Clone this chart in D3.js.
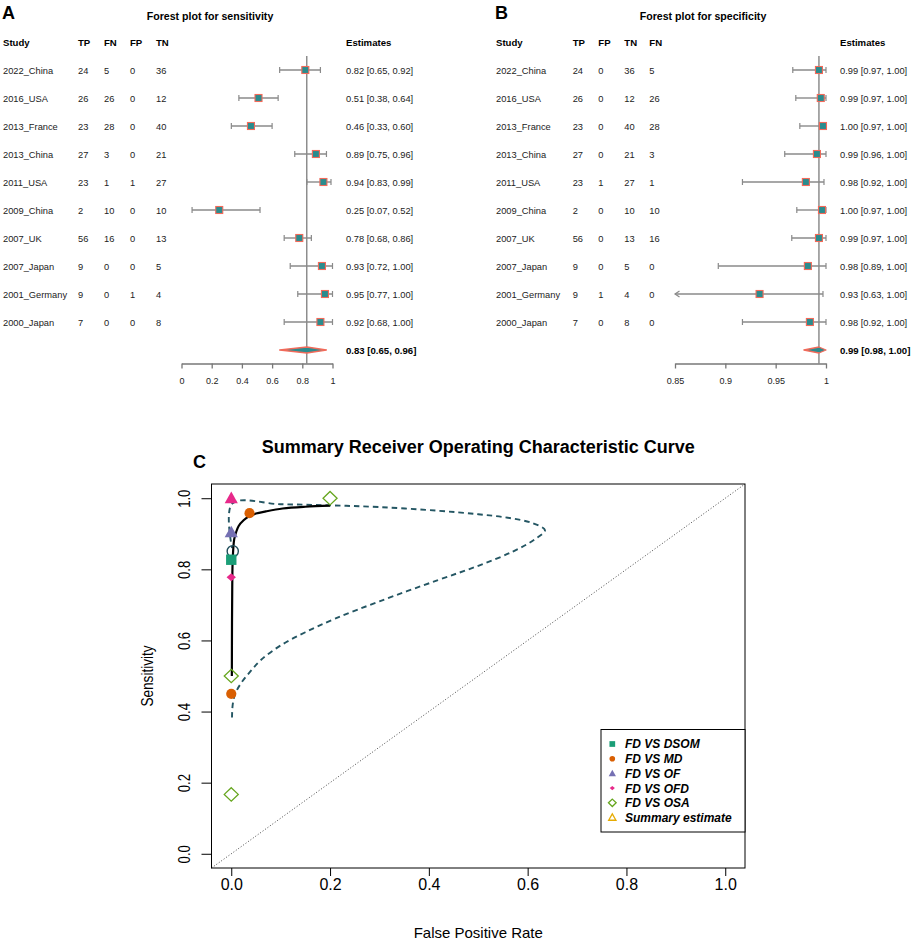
<!DOCTYPE html>
<html lang="en">
<head>
    <meta charset="UTF-8">
    <title>Forest plots and SROC curve</title>
    <style>
        body { margin: 0; background: #fff; }
        text { font-family: "Liberation Sans", Arial, Helvetica, sans-serif; }
    </style>
</head>
<body>
    <script src="https://cdn.jsdelivr.net/npm/d3@7"></script>
    <script type="text/javascript">
        /* #### data #### */
        var studies = ["2022_China", "2016_USA", "2013_France", "2013_China", "2011_USA",
                       "2009_China", "2007_UK", "2007_Japan", "2001_Germany", "2000_Japan"];
        var tp = [24, 26, 23, 27, 23, 2, 56, 9, 9, 7];
        var fn = [5, 26, 28, 3, 1, 10, 16, 0, 0, 0];
        var fp = [0, 0, 0, 0, 1, 0, 0, 0, 1, 0];
        var tn = [36, 12, 40, 21, 27, 10, 13, 5, 4, 8];

        var sensEst = [0.82, 0.51, 0.46, 0.89, 0.94, 0.25, 0.78, 0.93, 0.95, 0.92];
        var sensLo  = [0.65, 0.38, 0.33, 0.75, 0.83, 0.07, 0.68, 0.72, 0.77, 0.68];
        var sensHi  = [0.92, 0.64, 0.60, 0.96, 0.99, 0.52, 0.86, 1.00, 1.00, 1.00];
        var sensSummary = [0.83, 0.65, 0.96];
        var sensTicks = [0, 0.2, 0.4, 0.6, 0.8, 1];

        var specEst = [0.993, 0.9948, 0.997, 0.991, 0.980, 0.996, 0.993, 0.982, 0.934, 0.984];
        var specLo  = [0.967, 0.970, 0.974, 0.959, 0.917, 0.971, 0.966, 0.893, 0.63, 0.917];
        var specHi  = [1.0, 1.0, 1.0, 1.0, 0.998, 1.0, 1.0, 1.0, 0.997, 1.0];
        var specSummary = [0.993, 0.978, 1.0];
        var specTicks = [0.85, 0.9, 0.95, 1];

        // SROC panel
        var groups = ["FD VS DSOM", "FD VS MD", "FD VS OF", "FD VS OFD", "FD VS OSA", "Summary estimate"];
        var groupPch = [15, 16, 17, 18, 5, 2];
        var rocFpr   = [0, 0.037, 0, 0, 0, 0, 0.2, 0, 0];
        var rocSens  = [0.827, 0.958, 0.45, 0.904, 1.0, 0.778, 1.0, 0.5, 0.167];
        var rocGroup = [0, 1, 1, 2, 3, 3, 4, 4, 4];
        var rocPch   = [15, 16, 16, 17, 17, 18, 5, 5, 5];
        var summaryPoint = [0.003, 0.851];

        var srocFpr  = [0.0012, 0.0015, 0.002, 0.003, 0.006, 0.01, 0.015, 0.025, 0.036, 0.05, 0.07, 0.104, 0.15, 0.2];
        var srocSens = [0.50, 0.65, 0.75, 0.83, 0.885, 0.905, 0.922, 0.938, 0.949, 0.957, 0.963, 0.971, 0.976, 0.979];

        var ellFpr  = [0.0015, 0.003, 0.008, 0.02, 0.04, 0.06, 0.1, 0.15, 0.21, 0.3, 0.417, 0.5, 0.57,
                       0.615, 0.635, 0.61, 0.56, 0.5, 0.417, 0.3, 0.2, 0.1, 0.002, 0.0015];
        var ellSens = [0.383, 0.42, 0.45, 0.48, 0.515, 0.545, 0.586, 0.623, 0.661, 0.71, 0.769, 0.81, 0.85,
                       0.885, 0.91, 0.93, 0.945, 0.955, 0.965, 0.975, 0.980, 0.983, 0.985, 0.86];
        var rocTicks = [0, 0.2, 0.4, 0.6, 0.8, 1.0];

        var dark2 = ["#1B9E77", "#D95F02", "#7570B3", "#E7298A", "#66A61E", "#E6AB02"];
        var teal = "#2a8c8e", salmon = "#f26a5a", grayBar = "#8a8a8a";
        var f2 = d3.format(".2f");

        var svg = d3.select("body").append("svg").attr("width", 913).attr("height", 941);

        /* #### forest plots #### */
        function forest(o) {
            var g = svg.append("g");
            var x = d3.scaleLinear().domain(o.domain).range(o.range);
            var rowY = function(i){ return 70 + i * 28; };

            g.append("text").text(o.letter).attr("x", o.letterX).attr("y", 18.5)
                .attr("font-size", "18px").attr("font-weight", "bold");
            g.append("text").text(o.title).attr("x", o.titleX).attr("y", 20)
                .attr("text-anchor", "middle").attr("font-size", "10.6px").attr("font-weight", "bold");

            o.heads.forEach(function(h, k){
                g.append("text").text(h).attr("x", o.colX[k]).attr("y", 45.5)
                    .attr("font-size", "9.6px").attr("font-weight", "bold");
            });
            g.append("text").text("Estimates").attr("x", o.estX).attr("y", 45.5)
                .attr("font-size", "9.6px").attr("font-weight", "bold");

            o.cols.forEach(function(col, k){
                g.selectAll(null).data(col).enter().append("text")
                    .text(function(d){ return d; })
                    .attr("x", o.colX[k])
                    .attr("y", function(d, i){ return rowY(i) + 3.5; })
                    .attr("font-size", "9.3px").attr("fill", "#222");
            });

            // reference line
            g.append("line")
                .attr("x1", x(o.summary[0])).attr("x2", x(o.summary[0]))
                .attr("y1", 56).attr("y2", 363.5)
                .attr("stroke", "#555").attr("stroke-width", 1);

            // CI bars
            var rows = o.est.map(function(d, i){ return {e: d, lo: o.lo[i], hi: o.hi[i], i: i}; });
            var bars = g.selectAll(".ci").data(rows).enter().append("g").attr("class", "ci");
            bars.append("line")
                .attr("x1", function(d){ return x(Math.max(d.lo, o.domain[0])); })
                .attr("x2", function(d){ return x(d.hi); })
                .attr("y1", function(d){ return rowY(d.i); })
                .attr("y2", function(d){ return rowY(d.i); })
                .attr("stroke", grayBar).attr("stroke-width", 1.4);
            bars.append("path")
                .attr("d", function(d){
                    var y = rowY(d.i), xl = x(Math.max(d.lo, o.domain[0])), xh = x(d.hi);
                    var left = d.lo < o.domain[0]
                        ? "M" + (xl + 4.5) + "," + (y - 3) + "L" + xl + "," + y + "L" + (xl + 4.5) + "," + (y + 3)
                        : "M" + xl + "," + (y - 3) + "V" + (y + 3);
                    return left + "M" + xh + "," + (y - 3) + "V" + (y + 3);
                })
                .attr("fill", "none").attr("stroke", grayBar).attr("stroke-width", 1.2);
            bars.append("rect")
                .attr("x", function(d){ return x(d.e) - 3.5; })
                .attr("y", function(d){ return rowY(d.i) - 3.5; })
                .attr("width", 7).attr("height", 7)
                .attr("fill", teal).attr("stroke", salmon).attr("stroke-width", 1.1);

            g.selectAll(".est").data(rows).enter().append("text")
                .text(function(d){ return f2(d.e) + " [" + f2(d.lo) + ", " + f2(d.hi) + "]"; })
                .attr("x", o.estX)
                .attr("y", function(d){ return rowY(d.i) + 3.5; })
                .attr("font-size", "9.3px").attr("fill", "#222");

            // summary diamond
            var s = o.summary, ys = 350;
            g.append("path")
                .attr("d", "M" + x(s[1]) + "," + ys + "L" + x(s[0]) + "," + (ys - 3) + "L" + x(s[2]) + "," + ys +
                           "L" + x(s[0]) + "," + (ys + 3) + "Z")
                .attr("fill", teal).attr("stroke", salmon).attr("stroke-width", 1.3).attr("stroke-linejoin", "round");
            g.append("text").text(f2(s[0]) + " [" + f2(s[1]) + ", " + f2(s[2]) + "]")
                .attr("x", o.estX).attr("y", ys + 3.5)
                .attr("font-size", "9.6px").attr("font-weight", "bold");

            // axis
            var ax = g.append("g").attr("transform", "translate(0,363.5)")
                .call(d3.axisBottom(x).tickValues(o.ticks).tickSize(5).tickSizeOuter(0).tickPadding(9)
                    .tickFormat(d3.format("~g")));
            ax.selectAll("path,line").attr("stroke", "#777").attr("stroke-width", 1.3);
            ax.selectAll("text").attr("font-size", "9px").attr("fill", "#222")
                .style("font-family", "'Liberation Sans', Arial, sans-serif");
        }

        forest({
            letter: "A", letterX: 2, title: "Forest plot for sensitivity", titleX: 210,
            heads: ["Study", "TP", "FN", "FP", "TN"], colX: [3, 78, 104, 130, 156], estX: 346,
            cols: [studies, tp, fn, fp, tn],
            est: sensEst, lo: sensLo, hi: sensHi, summary: sensSummary,
            domain: [0, 1], range: [181.5, 332.5], ticks: sensTicks
        });

        forest({
            letter: "B", letterX: 495, title: "Forest plot for specificity", titleX: 703,
            heads: ["Study", "TP", "FP", "TN", "FN"], colX: [496, 572.7, 598.3, 624.3, 649.3], estX: 840,
            cols: [studies, tp, fp, tn, fn],
            est: specEst, lo: specLo, hi: specHi, summary: specSummary,
            domain: [0.85, 1], range: [675, 826], ticks: specTicks
        });

        /* #### SROC curve #### */
        var L = 211.5, R = 745, T = 484, B = 868;
        var xr = d3.scaleLinear().domain([-0.04, 1.04]).range([L, R]);
        var yr = d3.scaleLinear().domain([-0.04, 1.04]).range([B, T]);
        var c = svg.append("g");

        c.append("text").text("C").attr("x", 193).attr("y", 468)
            .attr("font-size", "18px").attr("font-weight", "bold");
        c.append("text").text("Summary Receiver Operating Characteristic Curve")
            .attr("x", (L + R) / 2).attr("y", 453).attr("text-anchor", "middle")
            .attr("font-size", "18px").attr("font-weight", "bold");

        // diagonal
        c.append("line")
            .attr("x1", xr(-0.04)).attr("y1", yr(-0.04)).attr("x2", xr(1.04)).attr("y2", yr(1.04))
            .attr("stroke", "#333").attr("stroke-width", 0.9).attr("stroke-dasharray", "1,2");

        // confidence region
        c.append("path")
            .datum(ellFpr.map(function(d, i){ return [d, ellSens[i]]; }))
            .attr("d", d3.line().x(function(d){ return xr(d[0]); }).y(function(d){ return yr(d[1]); })
                .curve(d3.curveCatmullRom.alpha(0.5)))
            .attr("fill", "none").attr("stroke", "#245663").attr("stroke-width", 1.9)
            .attr("stroke-dasharray", "5.5,4");

        // sroc curve
        c.append("path")
            .datum(srocFpr.map(function(d, i){ return [d, srocSens[i]]; }))
            .attr("d", d3.line().x(function(d){ return xr(d[0]); }).y(function(d){ return yr(d[1]); })
                .curve(d3.curveCatmullRom.alpha(0.5)))
            .attr("fill", "none").attr("stroke", "#000").attr("stroke-width", 2.2);

        // summary point
        c.append("circle")
            .attr("cx", xr(summaryPoint[0])).attr("cy", yr(summaryPoint[1])).attr("r", 5.6)
            .attr("fill", "none").attr("stroke", "#1f4d5a").attr("stroke-width", 1.4);

        function marker(pch, k) {
            var a;
            if (pch === 15) { a = 5.2 * k; return "M" + (-a) + "," + (-a) + "H" + a + "V" + a + "H" + (-a) + "Z"; }
            if (pch === 16) { a = 5.1 * k; return "M" + (-a) + ",0A" + a + "," + a + " 0 1,0 " + a + ",0A" + a + "," + a + " 0 1,0 " + (-a) + ",0Z"; }
            if (pch === 17 || pch === 2) { a = 6.6 * k; return "M0," + (-6.6 * k) + "L" + a + "," + (5 * k) + "L" + (-a) + "," + (5 * k) + "Z"; }
            if (pch === 18) { return "M0," + (-4 * k) + "L" + (4.7 * k) + ",0L0," + (4 * k) + "L" + (-4.7 * k) + ",0Z"; }
            if (pch === 5) { return "M0," + (-6.7 * k) + "L" + (7 * k) + ",0L0," + (6.7 * k) + "L" + (-7 * k) + ",0Z"; }
        }
        function paint(sel, pch, col) {
            var open = (pch === 5 || pch === 2);
            sel.attr("fill", open ? "none" : col).attr("stroke", col).attr("stroke-width", open ? 1.3 : 0);
        }

        rocFpr.forEach(function(d, i){
            var p = c.append("path").attr("d", marker(rocPch[i], 1))
                .attr("transform", "translate(" + xr(d) + "," + yr(rocSens[i]) + ")");
            paint(p, rocPch[i], dark2[rocGroup[i]]);
        });

        // axes
        var xa = c.append("g").attr("transform", "translate(0," + B + ")")
            .call(d3.axisBottom(xr).tickValues(rocTicks).tickSize(8).tickPadding(3).tickFormat(d3.format(".1f")));
        var ya = c.append("g").attr("transform", "translate(" + L + ",0)")
            .call(d3.axisLeft(yr).tickValues(rocTicks).tickSize(10).tickFormat(d3.format(".1f")));
        [xa, ya].forEach(function(a){
            a.select(".domain").remove();
            a.selectAll("line").attr("stroke", "#000");
            a.selectAll("text").attr("font-size", "16px").attr("fill", "#000")
                .style("font-family", "'Liberation Sans', Arial, sans-serif");
        });
        ya.selectAll("text").attr("x", null).attr("dy", null).attr("text-anchor", "middle")
            .attr("transform", "translate(-21.5,0) rotate(-90) scale(0.82,1)");

        c.append("rect").attr("x", L).attr("y", T).attr("width", R - L).attr("height", B - T)
            .attr("fill", "none").attr("stroke", "#000").attr("stroke-width", 1);

        c.append("text").text("False Positive Rate").attr("x", (L + R) / 2).attr("y", 938)
            .attr("text-anchor", "middle").attr("font-size", "15px");
        c.append("text").text("Sensitivity")
            .attr("transform", "translate(153," + ((T + B) / 2) + ") rotate(-90) scale(0.85,1)")
            .attr("text-anchor", "middle").attr("font-size", "16px");

        // legend
        var lg = c.append("g");
        lg.append("rect").attr("x", 601).attr("y", 729.5).attr("width", R - 601).attr("height", 102.5)
            .attr("fill", "#fff").attr("stroke", "#000").attr("stroke-width", 1);
        groups.forEach(function(name, i){
            var y = 744 + i * 14.7;
            var p = lg.append("path").attr("d", marker(groupPch[i], 0.55))
                .attr("transform", "translate(612.3," + y + ")");
            paint(p, groupPch[i], dark2[i]);
            lg.append("text").text(name).attr("x", 625).attr("y", y + 4.4)
                .attr("font-size", "12px").attr("font-weight", "bold").attr("font-style", "italic");
        });
    </script>
</body>
</html>
